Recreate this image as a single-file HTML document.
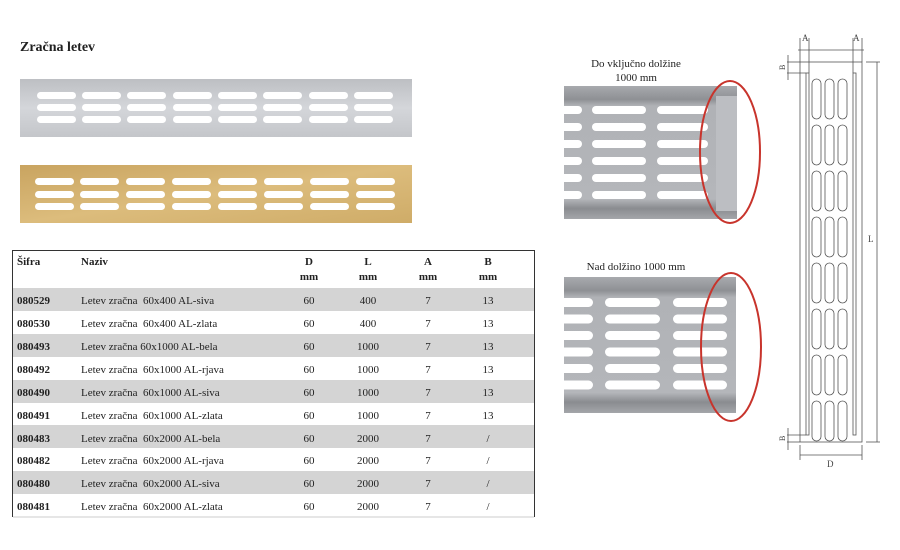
<!DOCTYPE html>
<html><head><meta charset="utf-8"><style>
body{margin:0;background:#fff;}
svg{display:block;font-family:"Liberation Serif",serif;}
.pre text{white-space:pre;}
</style></head><body>
<svg width="900" height="550" viewBox="0 0 900 550">
<defs>
<linearGradient id="sil" x1="0" y1="0" x2="0" y2="1"><stop offset="0" stop-color="#bdbfc3"/><stop offset="0.5" stop-color="#d4d6da"/><stop offset="1" stop-color="#c4c6ca"/></linearGradient>
<linearGradient id="gold" x1="0" y1="0" x2="1" y2="1"><stop offset="0" stop-color="#c9a460"/><stop offset="0.5" stop-color="#dcbc7c"/><stop offset="1" stop-color="#cfac68"/></linearGradient>
<linearGradient id="met" x1="0" y1="0" x2="0" y2="1"><stop offset="0" stop-color="#a8aaae"/><stop offset="0.1" stop-color="#8e9094"/><stop offset="0.15" stop-color="#b0b2b6"/><stop offset="0.85" stop-color="#b4b6ba"/><stop offset="0.92" stop-color="#8a8c90"/><stop offset="1" stop-color="#a4a6aa"/></linearGradient>
</defs>
<text x="20" y="51" font-size="14" font-weight="bold" fill="#222">Zračna letev</text>
<rect x="20" y="79" width="392" height="58" fill="url(#sil)"/>
<rect x="20" y="165" width="392" height="58" fill="url(#gold)"/>
<g fill="#fff">
<g id="s1">
<rect x="37" y="92" width="39" height="7" rx="3.5"/><rect x="37" y="104" width="39" height="7" rx="3.5"/><rect x="37" y="116" width="39" height="7" rx="3.5"/>
</g>
<use href="#s1" x="45"/><use href="#s1" x="90"/><use href="#s1" x="136"/><use href="#s1" x="181"/><use href="#s1" x="226"/><use href="#s1" x="272"/><use href="#s1" x="317"/>
<g id="s2">
<rect x="35" y="178" width="39" height="7" rx="3.5"/><rect x="35" y="191" width="39" height="7" rx="3.5"/><rect x="35" y="203" width="39" height="7" rx="3.5"/>
</g>
<use href="#s2" x="45"/><use href="#s2" x="91"/><use href="#s2" x="137"/><use href="#s2" x="183"/><use href="#s2" x="229"/><use href="#s2" x="275"/><use href="#s2" x="321"/>
</g>

<!-- table -->
<path d="M12.5 517 V250.5 H534.5 V517" fill="none" stroke="#333" stroke-width="1"/>
<line x1="13" y1="517" x2="534" y2="517" stroke="#ccc"/>
<g fill="#d4d4d4">
<rect x="13" y="288" width="521" height="23"/><rect x="13" y="334" width="521" height="23"/><rect x="13" y="380" width="521" height="23"/><rect x="13" y="425" width="521" height="23"/><rect x="13" y="471" width="521" height="23"/>
</g>
<g font-size="11" fill="#222">
<g font-weight="bold"><text x="17" y="265">Šifra</text><text x="81" y="265">Naziv</text></g>
<g font-weight="bold" text-anchor="middle">
<text x="309" y="265">D</text><text x="309" y="280">mm</text>
<text x="368" y="265">L</text><text x="368" y="280">mm</text>
<text x="428" y="265">A</text><text x="428" y="280">mm</text>
<text x="488" y="265">B</text><text x="488" y="280">mm</text>
</g>
<g font-weight="bold">
<text x="17" y="304">080529</text><text x="17" y="327">080530</text><text x="17" y="350">080493</text><text x="17" y="373">080492</text><text x="17" y="396">080490</text><text x="17" y="419">080491</text><text x="17" y="442">080483</text><text x="17" y="464">080482</text><text x="17" y="487">080480</text><text x="17" y="510">080481</text>
</g>
<g class="pre">
<text x="81" y="304">Letev zračna  60x400 AL-siva</text>
<text x="81" y="327">Letev zračna  60x400 AL-zlata</text>
<text x="81" y="350">Letev zračna 60x1000 AL-bela</text>
<text x="81" y="373">Letev zračna  60x1000 AL-rjava</text>
<text x="81" y="396">Letev zračna  60x1000 AL-siva</text>
<text x="81" y="419">Letev zračna  60x1000 AL-zlata</text>
<text x="81" y="442">Letev zračna  60x2000 AL-bela</text>
<text x="81" y="464">Letev zračna  60x2000 AL-rjava</text>
<text x="81" y="487">Letev zračna  60x2000 AL-siva</text>
<text x="81" y="510">Letev zračna  60x2000 AL-zlata</text>
</g>
<g text-anchor="middle">
<text x="309" y="304">60</text><text x="368" y="304">400</text><text x="428" y="304">7</text><text x="488" y="304">13</text>
<text x="309" y="327">60</text><text x="368" y="327">400</text><text x="428" y="327">7</text><text x="488" y="327">13</text>
<text x="309" y="350">60</text><text x="368" y="350">1000</text><text x="428" y="350">7</text><text x="488" y="350">13</text>
<text x="309" y="373">60</text><text x="368" y="373">1000</text><text x="428" y="373">7</text><text x="488" y="373">13</text>
<text x="309" y="396">60</text><text x="368" y="396">1000</text><text x="428" y="396">7</text><text x="488" y="396">13</text>
<text x="309" y="419">60</text><text x="368" y="419">1000</text><text x="428" y="419">7</text><text x="488" y="419">13</text>
<text x="309" y="442">60</text><text x="368" y="442">2000</text><text x="428" y="442">7</text><text x="488" y="442">/</text>
<text x="309" y="464">60</text><text x="368" y="464">2000</text><text x="428" y="464">7</text><text x="488" y="464">/</text>
<text x="309" y="487">60</text><text x="368" y="487">2000</text><text x="428" y="487">7</text><text x="488" y="487">/</text>
<text x="309" y="510">60</text><text x="368" y="510">2000</text><text x="428" y="510">7</text><text x="488" y="510">/</text>
</g>
</g>

<!-- middle images -->
<g font-size="11" fill="#222" text-anchor="middle">
<text x="636" y="67">Do vključno dolžine</text><text x="636" y="81">1000 mm</text>
<text x="636" y="270">Nad dolžino 1000 mm</text>
</g>
<rect x="564" y="86" width="173" height="133" fill="url(#met)"/>
<rect x="716" y="96" width="21" height="115" fill="#bcbec2"/>
<g fill="#fff">
<g id="m1"><rect x="556" y="106" width="26" height="8" rx="4"/><rect x="592" y="106" width="54" height="8" rx="4"/><rect x="657" y="106" width="51" height="8" rx="4"/></g>
<use href="#m1" y="17"/><use href="#m1" y="34"/><use href="#m1" y="51"/><use href="#m1" y="68"/><use href="#m1" y="85"/>
</g>
<rect x="564" y="277" width="172" height="136" fill="url(#met)"/>
<g fill="#fff">
<g id="m2"><rect x="556" y="298" width="37" height="9" rx="4.5"/><rect x="605" y="298" width="55" height="9" rx="4.5"/><rect x="673" y="298" width="54" height="9" rx="4.5"/></g>
<use href="#m2" y="16.5"/><use href="#m2" y="33"/><use href="#m2" y="49.5"/><use href="#m2" y="66"/><use href="#m2" y="82.5"/>
</g>
<ellipse cx="730" cy="152" rx="30" ry="71" fill="none" stroke="#c8342c" stroke-width="2"/>
<ellipse cx="731" cy="347" rx="30" ry="74" fill="none" stroke="#c8342c" stroke-width="2"/>

<!-- technical drawing -->
<g stroke="#555" fill="none" stroke-width="0.8">
<rect x="800" y="62" width="62" height="380"/>
<rect x="806" y="73" width="3" height="362"/>
<rect x="853" y="73" width="3" height="362"/>
<line x1="798" y1="50" x2="864" y2="50"/>
<line x1="800" y1="38" x2="800" y2="62"/><line x1="809" y1="38" x2="809" y2="73"/>
<line x1="853" y1="38" x2="853" y2="73"/><line x1="862" y1="38" x2="862" y2="62"/>
<line x1="787" y1="62" x2="800" y2="62"/><line x1="787" y1="73" x2="806" y2="73"/>
<line x1="788" y1="55" x2="788" y2="80"/>
<line x1="787" y1="435" x2="806" y2="435"/><line x1="787" y1="442" x2="800" y2="442"/>
<line x1="788" y1="428" x2="788" y2="450"/>
<line x1="866" y1="62" x2="880" y2="62"/><line x1="866" y1="442" x2="880" y2="442"/>
<line x1="877" y1="62" x2="877" y2="442"/>
<line x1="800" y1="455" x2="862" y2="455"/>
<line x1="800" y1="445" x2="800" y2="460"/><line x1="862" y1="445" x2="862" y2="460"/>
<g id="d1"><rect x="812" y="79" width="9" height="40" rx="4.5"/><rect x="825" y="79" width="9" height="40" rx="4.5"/><rect x="838" y="79" width="9" height="40" rx="4.5"/></g>
<use href="#d1" y="46"/><use href="#d1" y="92"/><use href="#d1" y="138"/><use href="#d1" y="184"/><use href="#d1" y="230"/><use href="#d1" y="276"/><use href="#d1" y="322"/>
</g>
<g font-size="9" fill="#444">
<text x="802" y="41">A</text><text x="853" y="41">A</text>
<text x="868" y="242">L</text><text x="827" y="467">D</text>
<text x="785" y="70" transform="rotate(-90 785 70)" font-size="8">B</text>
<text x="785" y="441" transform="rotate(-90 785 441)" font-size="8">B</text>
</g>
</svg>
</body></html>
